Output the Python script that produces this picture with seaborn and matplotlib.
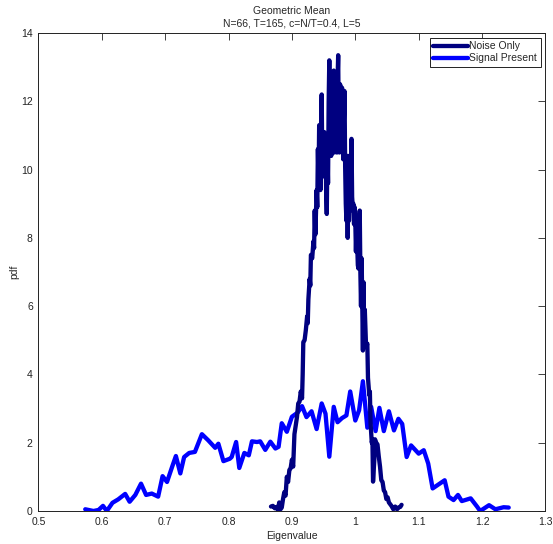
import numpy as np
import pandas as pd
import matplotlib
matplotlib.use("Agg")
import matplotlib.pyplot as plt
import seaborn as sns

# Empirical pdf of the geometric-mean eigenvalue statistic, noise only
noise_x = [0.867, 0.870, 0.873, 0.876, 0.878, 0.880, 0.882, 0.884, 0.886, 0.888,
           0.890, 0.892, 0.894, 0.896, 0.898, 0.900, 0.902, 0.904, 0.906, 0.908,
           0.910, 0.912, 0.914, 0.916, 0.917, 0.918, 0.920, 0.922, 0.924, 0.925,
           0.926, 0.928, 0.929, 0.930, 0.932, 0.934, 0.935, 0.936, 0.937, 0.938,
           0.939, 0.940, 0.941, 0.942, 0.943, 0.944, 0.945, 0.946, 0.947, 0.948,
           0.949, 0.950, 0.951, 0.952, 0.953, 0.954, 0.955, 0.956, 0.957, 0.958,
           0.959, 0.960, 0.961, 0.962, 0.963, 0.964, 0.965, 0.966, 0.967, 0.968,
           0.969, 0.970, 0.971, 0.972, 0.973, 0.974, 0.975, 0.976, 0.977, 0.978,
           0.979, 0.980, 0.981, 0.982, 0.983, 0.984, 0.985, 0.986, 0.987, 0.988,
           0.989, 0.990, 0.991, 0.992, 0.993, 0.994, 0.995, 0.996, 0.997, 0.998,
           0.999, 1.000, 1.001, 1.002, 1.004, 1.005, 1.006, 1.007, 1.008, 1.009,
           1.010, 1.011, 1.012, 1.013, 1.014, 1.015, 1.017, 1.019, 1.020, 1.022,
           1.023, 1.024, 1.026, 1.027, 1.028, 1.030, 1.031, 1.033, 1.035, 1.037,
           1.039, 1.041, 1.043, 1.045, 1.047, 1.049, 1.051, 1.053, 1.055, 1.057,
           1.060, 1.063, 1.066, 1.068, 1.071, 1.073]
noise_pdf = [0.13, 0.15, 0.08, 0.12, 0.02, 0.25, 0.05, 0.10, 0.35, 0.55,
             0.45, 1.00, 0.85, 1.20, 1.25, 1.50, 1.30, 2.25, 2.50, 2.75,
             3.15, 3.20, 3.50, 3.30, 4.00, 4.95, 5.00, 5.30, 5.70, 5.50,
             6.20, 6.80, 6.60, 7.50, 7.40, 7.90, 7.70, 8.80, 8.10, 8.80,
             9.40, 8.90, 10.60, 9.60, 11.30, 10.30, 9.40, 11.30, 12.20, 10.00,
             11.00, 9.80, 11.10, 10.20, 11.00, 9.40, 8.70, 10.50, 9.60, 12.00,
             13.20, 11.00, 12.50, 10.40, 11.80, 10.80, 12.40, 12.90, 10.50, 12.00,
             10.60, 11.80, 10.50, 12.60, 13.35, 11.00, 10.50, 12.50, 11.20, 10.60,
             12.40, 12.30, 10.30, 11.50, 12.30, 10.10, 9.00, 8.50, 10.40, 8.00,
             10.40, 8.50, 9.60, 8.80, 9.50, 10.90, 9.20, 8.90, 9.00, 8.40,
             8.90, 8.50, 7.60, 8.40, 7.20, 7.10, 8.00, 8.80, 7.00, 6.00,
             7.40, 6.00, 4.70, 6.70, 4.80, 5.90, 4.80, 4.90, 3.90, 3.40,
             3.50, 2.60, 2.00, 2.10, 0.86, 1.50, 2.10, 2.00, 1.95, 1.60,
             1.30, 0.90, 0.85, 0.60, 0.55, 0.35, 0.40, 0.25, 0.20, 0.15,
             0.05, 0.13, 0.05, 0.10, 0.12, 0.18]

# Empirical pdf with a signal present
signal_x = [0.574, 0.587, 0.595, 0.602, 0.608, 0.617, 0.626, 0.637, 0.644, 0.653,
            0.662, 0.670, 0.679, 0.689, 0.696, 0.703, 0.711, 0.717, 0.724, 0.730,
            0.738, 0.747, 0.758, 0.768, 0.779, 0.784, 0.792, 0.802, 0.805, 0.812,
            0.817, 0.825, 0.832, 0.837, 0.845, 0.850, 0.858, 0.866, 0.874, 0.879,
            0.884, 0.892, 0.900, 0.909, 0.916, 0.923, 0.931, 0.939, 0.947, 0.953,
            0.959, 0.966, 0.972, 0.979, 0.986, 0.992, 1.000, 1.006, 1.012, 1.019,
            1.025, 1.032, 1.038, 1.045, 1.053, 1.061, 1.068, 1.074, 1.081, 1.088,
            1.100, 1.108, 1.115, 1.122, 1.141, 1.147, 1.155, 1.162, 1.168, 1.182,
            1.192, 1.197, 1.211, 1.221, 1.234, 1.242]
signal_pdf = [0.05, 0.00, 0.03, 0.15, 0.00, 0.24, 0.34, 0.50, 0.27, 0.47,
              0.80, 0.47, 0.51, 0.42, 1.02, 0.85, 1.29, 1.61, 1.10, 1.58,
              1.70, 1.73, 2.25, 2.07, 1.85, 1.97, 1.46, 1.53, 1.58, 2.02,
              1.26, 1.70, 1.63, 2.04, 2.02, 2.04, 1.79, 2.03, 1.83, 1.88,
              2.57, 2.32, 2.76, 2.88, 3.07, 2.75, 2.92, 2.40, 3.15, 2.85,
              1.59, 3.05, 2.60, 2.72, 2.80, 3.50, 2.65, 2.95, 3.80, 2.44,
              3.05, 2.34, 3.02, 2.34, 2.92, 2.36, 2.70, 2.55, 1.58, 1.92,
              1.68, 1.78, 1.39, 0.66, 0.90, 0.42, 0.32, 0.47, 0.29, 0.37,
              0.13, 0.00, 0.17, 0.05, 0.11, 0.10]

x_ticks = [0.5, 0.6, 0.7, 0.8, 0.9, 1.0, 1.1, 1.2, 1.3]
x_tick_labels = ["0.5", "0.6", "0.7", "0.8", "0.9", "1", "1.1", "1.2", "1.3"]
y_ticks = [0, 2, 4, 6, 8, 10, 12, 14]

sns.set_style("white")
plt.rcParams["font.family"] = ["Liberation Sans", "DejaVu Sans"]
plt.rcParams["font.size"] = 7.5

noise_df = pd.DataFrame({"Eigenvalue": noise_x, "pdf": noise_pdf})
signal_df = pd.DataFrame({"Eigenvalue": signal_x, "pdf": signal_pdf})

fig = plt.figure(figsize=(5.53, 5.44), dpi=100)
ax = fig.add_axes([0.0693, 0.0607, 0.9864 - 0.0693, 0.9393 - 0.0607])

sns.lineplot(data=noise_df, x="Eigenvalue", y="pdf", ax=ax, sort=False,
             color="#000080", linewidth=3.1, label="Noise Only", zorder=3)
sns.lineplot(data=signal_df, x="Eigenvalue", y="pdf", ax=ax, sort=False,
             color="#0000FF", linewidth=3.1, label="Signal Present", zorder=2)

ax.set_xlim(0.5, 1.3)
ax.set_ylim(0, 14)
ax.set_xticks(x_ticks)
ax.set_xticklabels(x_tick_labels)
ax.set_yticks(y_ticks)
ax.tick_params(direction="in", length=5, width=0.6, colors="#222222",
               top=True, right=True, labelsize=7.5, pad=4)
for spine in ax.spines.values():
    spine.set_visible(True)
    spine.set_color("#222222")
    spine.set_linewidth(0.7)

ax.set_xlabel("Eigenvalue", fontsize=7.5, labelpad=3)
ax.set_ylabel("pdf", fontsize=7.5, labelpad=1)
ax.set_title("Geometric Mean\nN=66, T=165, c=N/T=0.4, L=5", fontsize=7.5,
             linespacing=1.25, pad=5)

leg = ax.legend(loc="upper right", fontsize=7.5, handlelength=3.3,
                handletextpad=0.15, borderaxespad=0.45, borderpad=0.35,
                labelspacing=0.2, fancybox=False, framealpha=1)
leg.get_frame().set_edgecolor("#222222")
leg.get_frame().set_linewidth(0.7)

ax.grid(False)
fig.savefig("out.png", dpi=100)
